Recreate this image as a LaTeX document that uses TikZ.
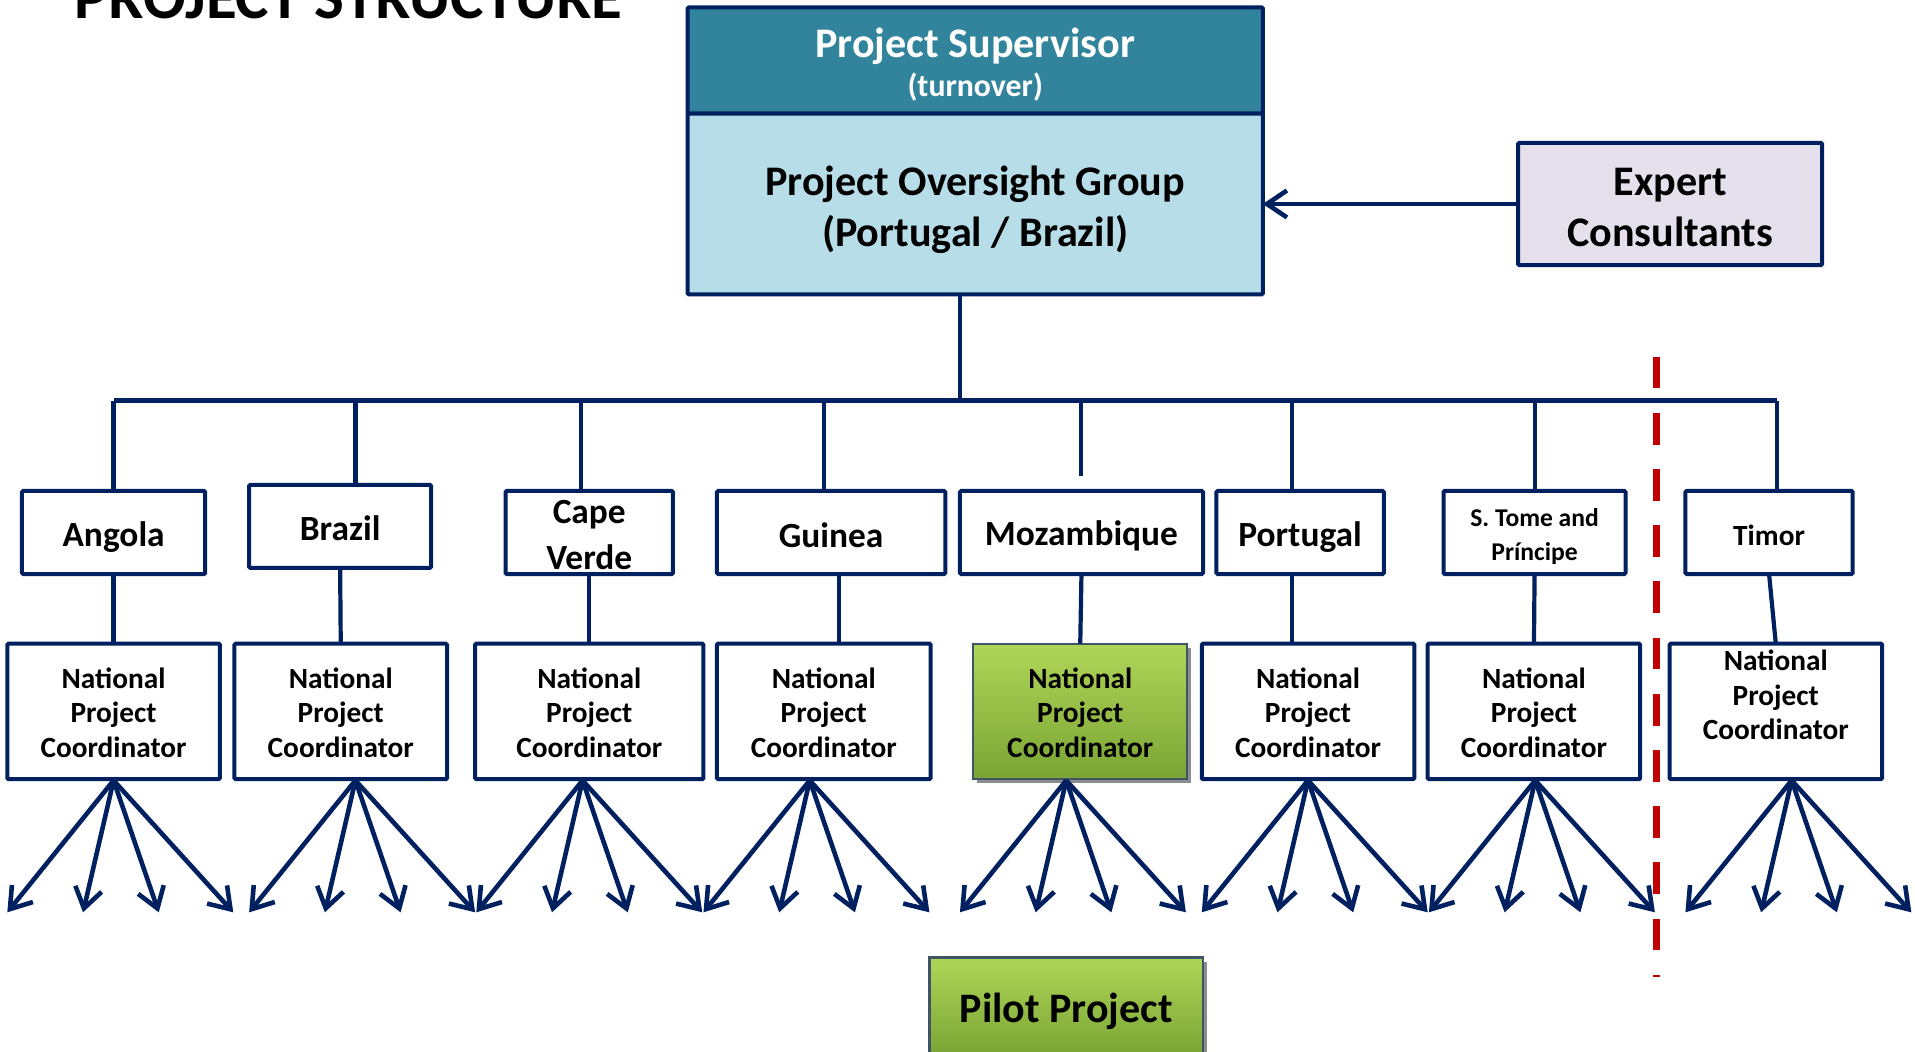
\documentclass[tikz,border=0pt]{standalone}
\usepackage{fontspec}
\setmainfont{Carlito}
\usetikzlibrary{arrows.meta,shadows,calc}
\definecolor{dknavy}{RGB}{0,32,96}
\definecolor{supteal}{RGB}{49,132,155}
\definecolor{polight}{RGB}{183,222,232}
\definecolor{explav}{RGB}{229,224,236}
\definecolor{dashred}{RGB}{192,0,0}
\definecolor{gtop}{RGB}{176,214,88}
\definecolor{gbot}{RGB}{122,164,52}
\definecolor{gedge}{RGB}{64,84,104}
% name, x1, y1, x2, y2, box style, text style, text shift (down), text
\newcommand\mkbox[9]{%
  \node[#6, minimum width={(#4-#2)*0.6107pt}, minimum height={(#5-#3)*0.6107pt}] (#1) at ({(#2+#4)/2},{(#3+#5)/2}) {};%
  \node[#7, inner sep=0pt, align=center] (#1-text) at ($(#1.center)+(0,#8)$) {#9};}
\tikzset{
  boxbase/.style={draw=dknavy, line width=2pt, inner sep=0pt, outer sep=0pt, rounded corners=0.6pt},
  cbox/.style={boxbase, fill=white},
  ctext/.style={font=\bfseries\fontsize{17.7}{22.6}\selectfont},
  npctext/.style={font=\bfseries\fontsize{14.66}{17.4}\selectfont},
  greenbox/.style={draw=gedge, line width=1.1pt, inner sep=0pt, outer sep=0pt, top color=gtop, bottom color=gbot,
     drop shadow={shadow xshift=2pt, shadow yshift=-2pt, opacity=0.45, fill=black}},
  conn/.style={draw=dknavy, line width=2.1pt},
  fanarrow/.style={draw=dknavy, line width=2.3pt, -{Straight Barb[length=10pt,width=13.5pt]}},
  redline/.style={draw=dashred, line width=3.4pt, dash pattern=on 15.9pt off 12.2pt},
}
\begin{document}
\begin{tikzpicture}[x=0.6107pt,y=-0.6107pt]
\useasboundingbox (0,0) rectangle (1568,861);
% title
\node[anchor=base west, inner sep=0pt, font=\bfseries\fontsize{31.5}{36}\selectfont] (title) at (61,15) {PROJECT STRUCTURE};
% top boxes
\mkbox{sup}{563}{6}{1034}{93}{boxbase, fill=supteal}{text=white, font=\bfseries\fontsize{15.9}{19.5}\selectfont}{3.5}{{\fontsize{21.07}{25}\selectfont Project Supervisor}\\(turnover)}
\mkbox{po}{563}{93}{1034}{241}{boxbase, fill=polight}{font=\bfseries\fontsize{21.07}{25.6}\selectfont}{5}{Project Oversight Group\\(Portugal / Brazil)}
\mkbox{exp}{1243}{117}{1492}{217}{boxbase, fill=explav}{font=\bfseries\fontsize{21.07}{25.6}\selectfont}{3}{Expert\\Consultants}
% countries
\mkbox{ang}{18}{402}{168}{470}{cbox}{ctext}{3.5}{Angola}
\mkbox{bra}{204}{397}{353}{465}{cbox}{ctext}{1.5}{Brazil}
\mkbox{cv}{414}{402}{551}{470}{cbox}{ctext}{2}{Cape\\Verde}
\mkbox{gui}{587}{402}{774}{470}{cbox}{ctext}{2.5}{Guinea}
\mkbox{moz}{786}{402}{985}{470}{cbox}{ctext}{3}{Mozambique}
\mkbox{por}{996}{402}{1133}{470}{cbox}{ctext}{3.5}{Portugal}
\mkbox{stp}{1182}{402}{1331}{470}{cbox}{font=\bfseries\fontsize{12.8}{17.1}\selectfont}{3}{S. Tome and\\Príncipe}
\mkbox{tim}{1380}{402}{1517}{470}{cbox}{font=\bfseries\fontsize{14.66}{17.4}\selectfont}{2}{Timor}
% national project coordinators
\mkbox{n1}{6}{527}{180}{638}{cbox}{npctext}{1}{National\\Project\\Coordinator}
\mkbox{n2}{192}{527}{366}{638}{cbox}{npctext}{1}{National\\Project\\Coordinator}
\mkbox{n3}{389}{527}{576}{638}{cbox}{npctext}{1}{National\\Project\\Coordinator}
\mkbox{n4}{587}{527}{762}{638}{cbox}{npctext}{1}{National\\Project\\Coordinator}
\mkbox{n5}{797}{527}{972}{638}{greenbox}{npctext}{1}{National\\Project\\Coordinator}
\mkbox{n6}{984}{527}{1158}{638}{cbox}{npctext}{1}{National\\Project\\Coordinator}
\mkbox{n7}{1169}{527}{1343}{638}{cbox}{npctext}{1}{National\\Project\\Coordinator}
\mkbox{n8}{1367}{527}{1541}{638}{cbox}{npctext}{-13.5}{National\\Project\\Coordinator}
% pilot project
\mkbox{pilot}{761}{784}{985}{864}{greenbox}{font=\bfseries\fontsize{21}{25}\selectfont}{4}{Pilot Project}
% bus
\coordinate (busL) at (93,328);
\coordinate (busR) at (1455,328);
\coordinate (busPO) at (786,328);
\draw[conn] (busL) -- (busR);
\draw[conn] (busPO) -- (busPO |- po.south);
\coordinate (b1) at (93,328);
\coordinate (b2) at (291,328);
\coordinate (b3) at (476,328);
\coordinate (b4) at (675,328);
\coordinate (b5) at (885,328);
\coordinate (b5e) at (885,390);
\coordinate (b6) at (1058,328);
\coordinate (b7) at (1257,328);
\coordinate (b8) at (1455,328);
\draw[conn] (b1) -- (b1 |- ang.north);
\draw[conn] (b2) -- (b2 |- bra.north);
\draw[conn] (b3) -- (b3 |- cv.north);
\draw[conn] (b4) -- (b4 |- gui.north);
\draw[conn] (b5) -- (b5e);
\draw[conn] (b6) -- (b6 |- por.north);
\draw[conn] (b7) -- (b7 |- stp.north);
\draw[conn] (b8) -- (b8 |- tim.north);
% country to coordinator
\draw[conn] (ang.south) -- (n1.north);
\draw[conn] (bra.south) -- (n2.north);
\draw[conn] (cv.south) -- (n3.north);
\draw[conn] ($(gui.south)+(6.5,0)$) -- ($(n4.north)+(12.5,0)$);
\draw[conn] (moz.south) -- (n5.north);
\draw[conn] ($(por.south)+(-6.5,0)$) -- ($(n6.north)+(-13,0)$);
\draw[conn] (stp.south) -- (n7.north);
\draw[conn] (tim.south) -- (n8.north);
% expert arrow
\draw[fanarrow] (exp.west) -- (exp.west -| po.east);
% red dashed separator
\coordinate (rtop) at (1356,292);
\coordinate (rbot) at (1356,800);
\draw[redline] (rtop) -- (rbot);
% fans
\coordinate (f1) at (93,639);
\coordinate (f2) at (291,639);
\coordinate (f3) at (477,639);
\coordinate (f4) at (663,639);
\coordinate (f5) at (873,639);
\coordinate (f6) at (1071,639);
\coordinate (f7) at (1257,639);
\coordinate (f8) at (1467,639);
\foreach \f in {1,...,8}{
  \foreach \o in {-87,-25,37,98}{
    \draw[fanarrow] (f\f) -- ++(\o,108);
  }
}
\end{tikzpicture}
\end{document}
